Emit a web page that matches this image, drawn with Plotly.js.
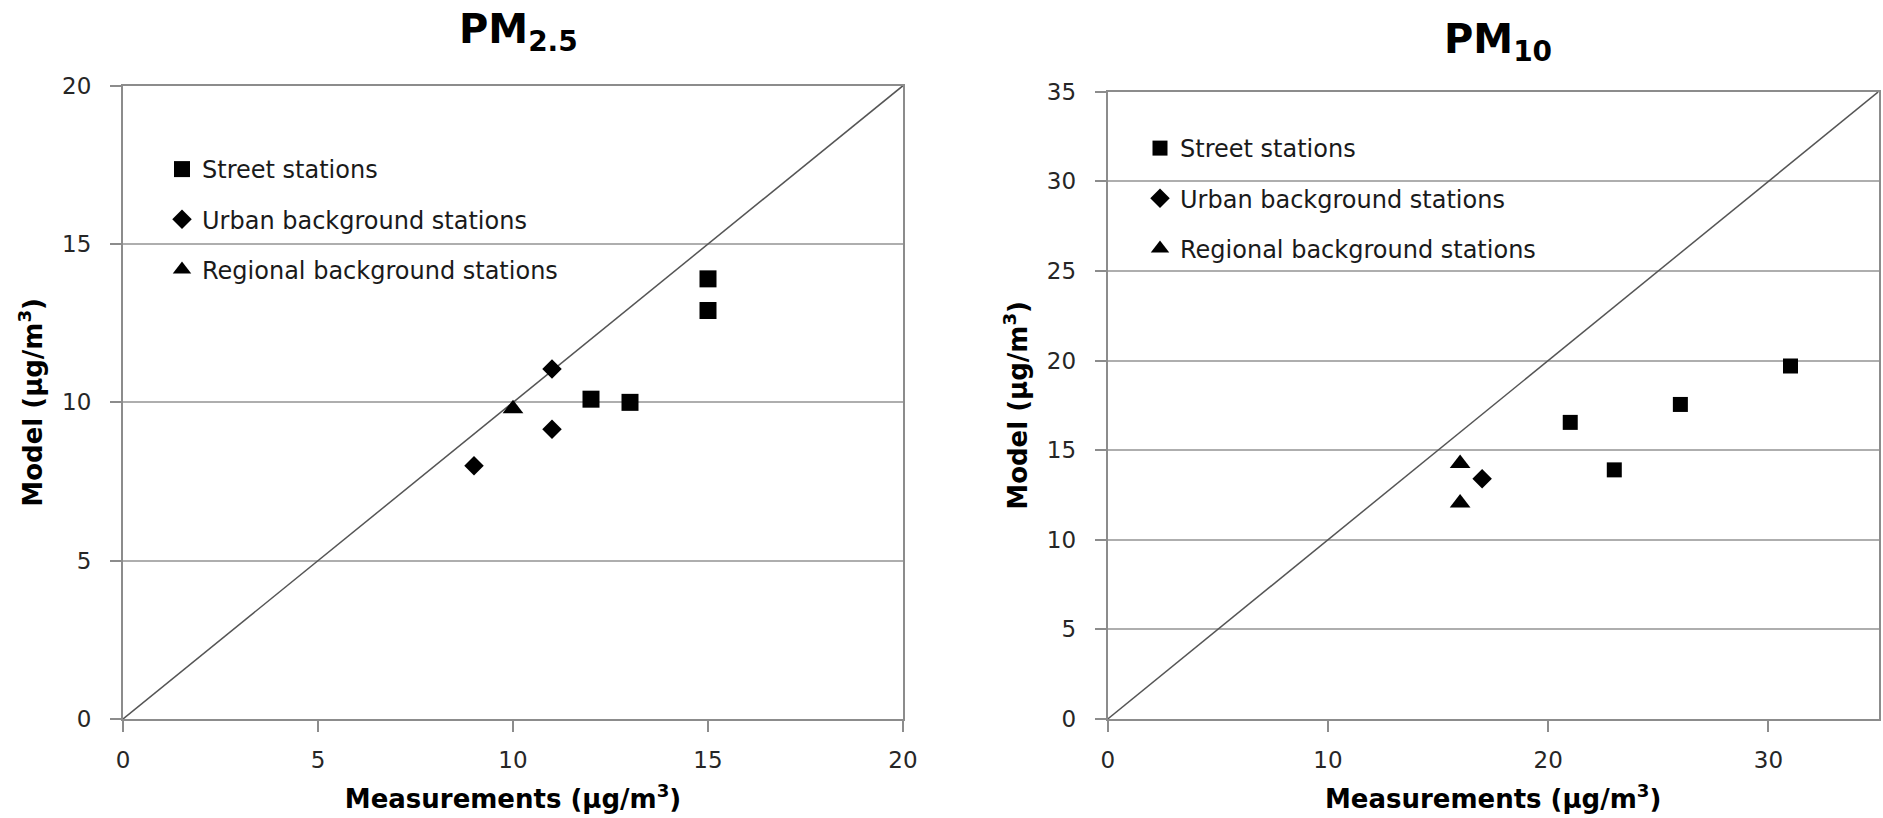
<!DOCTYPE html>
<html>
<head>
<meta charset="utf-8">
<script src="https://cdn.plot.ly/plotly-3.0.1.min.js"></script>
<style>
html,body{margin:0;padding:0;background:#fff;}
#chart{width:1883px;height:818px;}
</style>
</head>
<body>
<div id="chart"></div>
<script>
// ---- PM2.5 data ----
const pm25StreetX = [15, 15, 12, 13];
const pm25StreetY = [13.9, 12.9, 10.1, 10.0];
const pm25UrbanX = [11, 11, 9];
const pm25UrbanY = [11.05, 9.15, 8.0];
const pm25RegionalX = [10];
const pm25RegionalY = [9.8];
const pm25Diagonal = [0, 20];

// ---- PM10 data ----
const pm10StreetX = [21, 23, 26, 31];
const pm10StreetY = [16.55, 13.9, 17.55, 19.7];
const pm10UrbanX = [17];
const pm10UrbanY = [13.4];
const pm10RegionalX = [16, 16];
const pm10RegionalY = [14.25, 12.05];
const pm10Diagonal = [0, 35];

const seriesNames = ['Street stations', 'Urban background stations', 'Regional background stations'];
const panelTitles = ['PM<sub>2.5</sub>', 'PM<sub>10</sub>'];
const xTitle = 'Measurements (µg/m<sup>3</sup>)';
const yTitle = 'Model (µg/m<sup>3</sup>)';

const W = 1883, H = 818;
const px = v => v / W;
const py = v => 1 - v / H;

const lineCol = '#8c8c8c';
const gridCol = '#aeaeae';
const tickFont = {family: 'DejaVu Sans', size: 23, color: '#262626'};
const axTitleFont = {family: 'DejaVu Sans', size: 26, color: '#000', weight: 'bold'};
const titleFont = {family: 'DejaVu Sans', size: 40, color: '#000', weight: 'bold'};

function mk(x, y, name, symbol, size, xa, ya, leg, grp) {
  return {
    type: 'scatter', mode: 'markers', x: x, y: y, name: name,
    xaxis: xa, yaxis: ya, legend: leg, legendgroup: grp,
    marker: {symbol: symbol, size: size, color: '#000', line: {width: 0}},
    hoverinfo: 'x+y'
  };
}

const traces = [
  {type: 'scatter', mode: 'lines', x: pm25Diagonal, y: pm25Diagonal, xaxis: 'x', yaxis: 'y',
   line: {color: '#555', width: 1.5}, showlegend: false, hoverinfo: 'skip'},
  mk(pm25StreetX, pm25StreetY, seriesNames[0], 'square', 17, 'x', 'y', 'legend', 'a1'),
  mk(pm25UrbanX, pm25UrbanY, seriesNames[1], 'diamond', 15, 'x', 'y', 'legend', 'a2'),
  mk(pm25RegionalX, pm25RegionalY, seriesNames[2], 'triangle-up', 18, 'x', 'y', 'legend', 'a3'),
  {type: 'scatter', mode: 'lines', x: pm10Diagonal, y: pm10Diagonal, xaxis: 'x2', yaxis: 'y2',
   line: {color: '#555', width: 1.5}, showlegend: false, hoverinfo: 'skip'},
  mk(pm10StreetX, pm10StreetY, seriesNames[0], 'square', 15, 'x2', 'y2', 'legend2', 'b1'),
  mk(pm10UrbanX, pm10UrbanY, seriesNames[1], 'diamond', 15, 'x2', 'y2', 'legend2', 'b2'),
  mk(pm10RegionalX, pm10RegionalY, seriesNames[2], 'triangle-up', 18, 'x2', 'y2', 'legend2', 'b3')
];

function xax(domain, range, dtick) {
  return {
    domain: domain, range: range, dtick: dtick, tick0: 0,
    showgrid: false, zeroline: false,
    showline: true, mirror: true, linecolor: lineCol, linewidth: 2,
    ticks: 'outside', ticklen: 11, tickwidth: 2, tickcolor: lineCol,
    ticklabelstandoff: 8,
    tickfont: tickFont,
    title: {text: xTitle, font: axTitleFont, standoff: 18},
    fixedrange: true
  };
}
function yax(domain, range, dtick, xa) {
  return {
    domain: domain, range: range, dtick: dtick, tick0: 0, anchor: xa,
    showgrid: true, gridcolor: gridCol, gridwidth: 2, zeroline: false,
    showline: true, mirror: true, linecolor: lineCol, linewidth: 2,
    ticks: 'outside', ticklen: 11, tickwidth: 2, tickcolor: lineCol,
    ticklabelstandoff: 14,
    tickfont: tickFont,
    title: {text: yTitle, font: axTitleFont, standoff: 12},
    fixedrange: true
  };
}

const legendBase = {
  bgcolor: 'rgba(0,0,0,0)', borderwidth: 0,
  font: {family: 'DejaVu Sans', size: 24, color: '#1a1a1a'},
  traceorder: 'grouped', tracegroupgap: 16,
  xanchor: 'left', yanchor: 'top', itemclick: false, itemdoubleclick: false
};

const layout = {
  width: W, height: H,
  margin: {l: 0, r: 0, t: 0, b: 0},
  paper_bgcolor: '#fff', plot_bgcolor: '#fff',
  showlegend: true,
  xaxis: Object.assign(xax([px(123), px(903)], [0, 20], 5), {anchor: 'y'}),
  yaxis: yax([py(719), py(85.7)], [0, 20], 5, 'x'),
  xaxis2: Object.assign(xax([px(1107.7), px(1878.6)], [0, 35], 10), {anchor: 'y2'}),
  yaxis2: yax([py(719), py(91.7)], [0, 35], 5, 'x2'),
  legend: Object.assign({}, legendBase, {x: px(162), y: py(147)}),
  legend2: Object.assign({}, legendBase, {x: px(1140), y: py(126)}),
  annotations: [
    {text: panelTitles[0], xref: 'paper', yref: 'paper', x: px(518), y: py(60), xanchor: 'center', yanchor: 'bottom',
     showarrow: false, font: titleFont},
    {text: panelTitles[1], xref: 'paper', yref: 'paper', x: px(1498), y: py(70), xanchor: 'center', yanchor: 'bottom',
     showarrow: false, font: titleFont}
  ]
};

Plotly.newPlot('chart', traces, layout, {displayModeBar: false});
</script>
</body>
</html>
